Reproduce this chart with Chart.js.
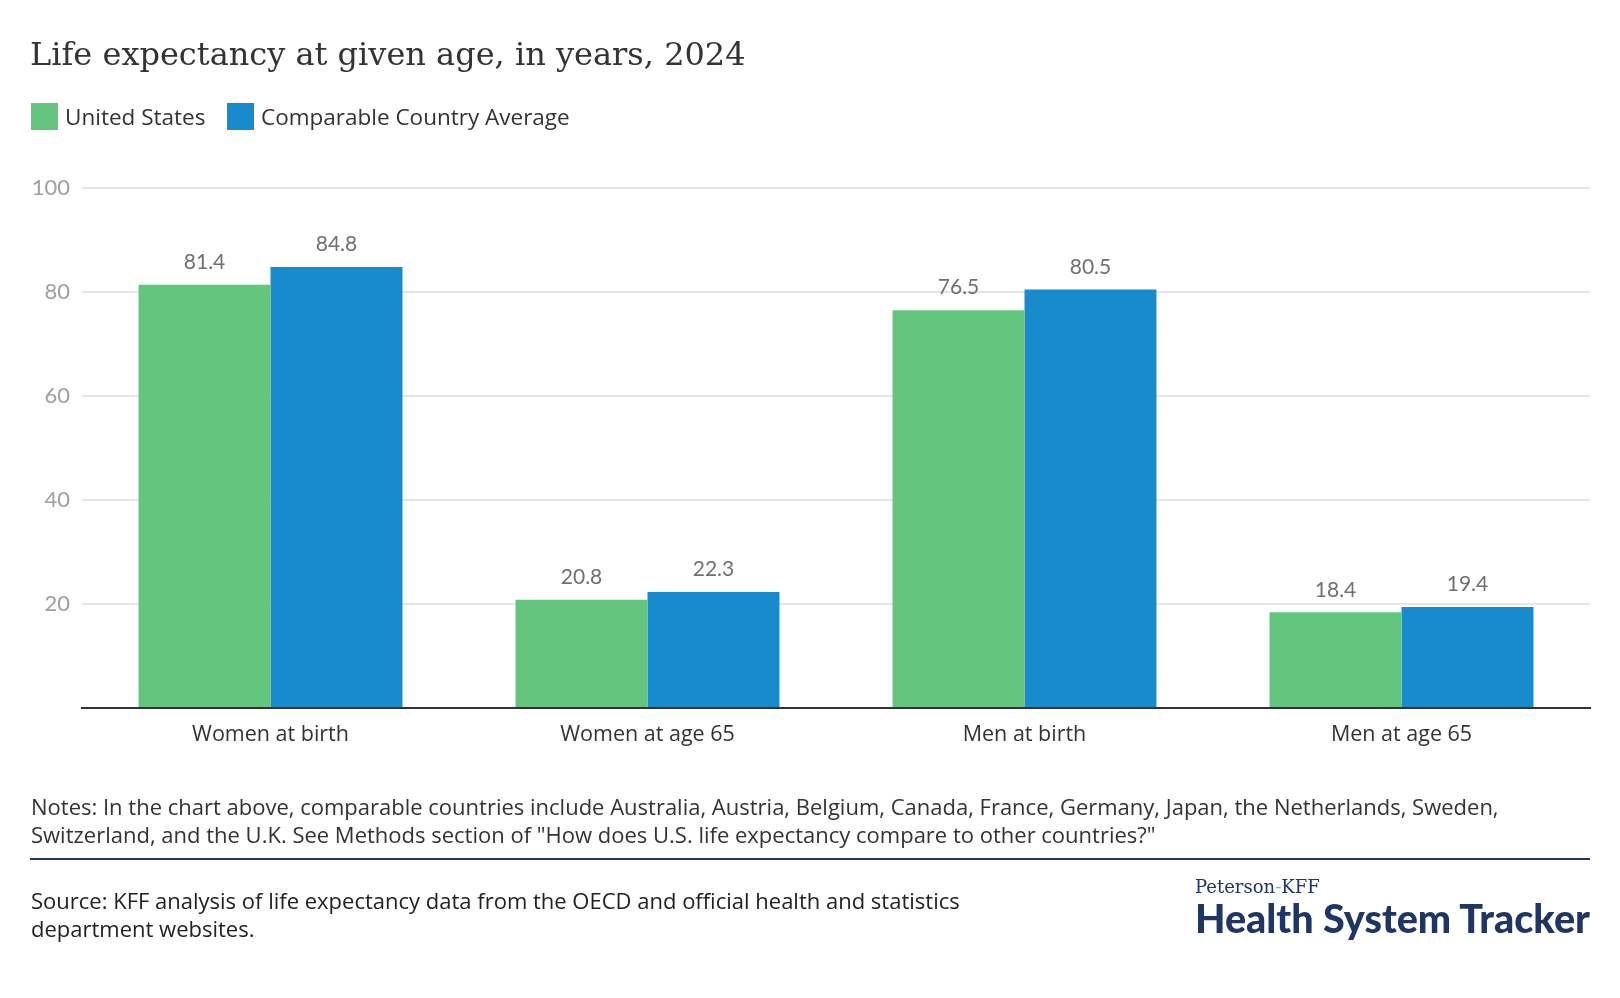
<!DOCTYPE html>
<html>
<head>
<meta charset="utf-8">
<script src="https://cdn.jsdelivr.net/npm/chart.js@4.4.1/dist/chart.umd.min.js"></script>
<style>
  html, body { margin: 0; padding: 0; background: #fff; }
  #page { position: relative; width: 1620px; height: 998px; overflow: hidden; font-family: "Open Sans", "Noto Sans", sans-serif; }
  #chartBox { position: absolute; left: 0; top: 0; width: 1620px; height: 998px; }
  .abs { position: absolute; white-space: nowrap; }
  #title { left: 30px; top: 35px; font-family: "DejaVu Serif", serif; font-size: 32px; color: #333; }
  .leg { top: 103px; height: 26px; display: flex; align-items: center; font-size: 22.5px; color: #333; }
  .leg span.sw { display: inline-block; width: 27px; height: 27px; margin-right: 7px; }
  #notes { left: 31px; top: 792px; font-size: 22px; line-height: 28px; color: #333; }
  #rule { left: 30px; top: 858px; width: 1560px; height: 2px; background: #1f3566; }
  #source { left: 31px; top: 886px; font-size: 22px; line-height: 28px; color: #222; }
  #brand1 { left: 1195px; top: 876px; font-family: "DejaVu Serif", serif; font-size: 18px; color: #1f3566; }
  #brand2 { left: 1195px; top: 894px; font-family: Lato, sans-serif; font-size: 39.5px; font-weight: 900; color: #1f3566; }
</style>
</head>
<body>
<div id="page">
  <div id="chartBox"><canvas id="grafik"></canvas></div>
  <div class="abs" id="title">Life expectancy at given age, in years, 2024</div>
  <div class="abs leg" style="left:31px"><span class="sw" style="background:#64c57f"></span>United States</div>
  <div class="abs leg" style="left:227px"><span class="sw" style="background:#178bcb"></span>Comparable Country Average</div>
  <div class="abs" id="notes">Notes: In the chart above, comparable countries include Australia, Austria, Belgium, Canada, France, Germany, Japan, the Netherlands, Sweden,<br>Switzerland, and the U.K. See Methods section of "How does U.S. life expectancy compare to other countries?"</div>
  <div class="abs" id="rule"></div>
  <div class="abs" id="source">Source: KFF analysis of life expectancy data from the OECD and official health and statistics<br>department websites.</div>
  <div class="abs" id="brand1">Peterson<span style="color:#64c57f">-</span>KFF</div>
  <div class="abs" id="brand2">Health System Tracker</div>
</div>
<script>
let kategoriler = ['Women at birth', 'Women at age 65', 'Men at birth', 'Men at age 65'];
let abd = [81.4, 20.8, 76.5, 18.4];
let ortalama = [84.8, 22.3, 80.5, 19.4];
let eksenEtiketleri = [20, 40, 60, 80, 100];

// values above the bars
let degerYazisi = {
  id: 'degerYazisi',
  afterDatasetsDraw(chart) {
    let ctx = chart.ctx;
    ctx.save();
    ctx.font = '21px Lato';
    ctx.fillStyle = '#707070';
    ctx.textAlign = 'center';
    ctx.textBaseline = 'bottom';
    chart.data.datasets.forEach((ds, i) => {
      chart.getDatasetMeta(i).data.forEach((bar, j) => {
        ctx.fillText(ds.data[j].toFixed(1), bar.x, bar.y - 12);
      });
    });
    ctx.restore();
  }
};

let kanvas = document.getElementById('grafik');

let grafik = new Chart(kanvas, {
  type: 'bar',
  data: {
    labels: kategoriler,
    datasets: [
      { label: 'United States', data: abd, backgroundColor: '#64c57f' },
      { label: 'Comparable Country Average', data: ortalama, backgroundColor: '#178bcb' }
    ]
  },
  options: {
    responsive: true,
    maintainAspectRatio: false,
    animation: false,
    layout: { padding: { left: 0, right: 30, top: 188, bottom: 230 } },
    plugins: { legend: { display: false }, tooltip: { enabled: false } },
    datasets: { bar: { categoryPercentage: 0.7, barPercentage: 1.0 } },
    scales: {
      x: {
        grid: { display: false },
        border: { color: '#333', width: 2 },
        ticks: { color: '#333', font: { family: 'Open Sans', size: 21.5 }, padding: 6 },
        afterFit(s) { s.height = 60; }
      },
      y: {
        min: 0,
        max: 100,
        grid: { color: '#e6e6e6', lineWidth: 2, drawTicks: false },
        border: { display: false },
        ticks: {
          stepSize: 20,
          color: '#a0a0a0',
          font: { family: 'Lato', size: 22 },
          padding: 12,
          callback: v => eksenEtiketleri.includes(v) ? v : ''
        },
        afterFit(s) { s.width = 82; }
      }
    }
  },
  plugins: [degerYazisi]
});
</script>
</body>
</html>
